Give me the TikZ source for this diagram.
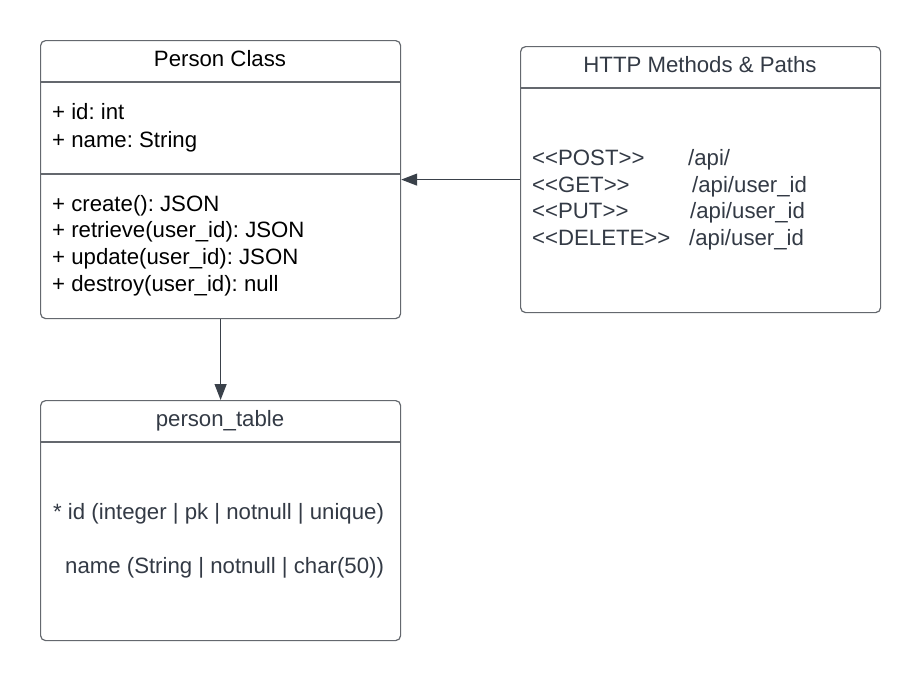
\documentclass[tikz,border=0pt]{standalone}
\usepackage{fontspec}
\setmainfont[Ligatures=NoCommon]{Liberation Sans}
\usetikzlibrary{arrows.meta}
\frenchspacing
\definecolor{boxline}{RGB}{100,104,110}
\definecolor{txtgray}{RGB}{51,58,69}
\definecolor{arrcol}{RGB}{58,65,74}
\newcommand{\stl}{{<}{<}}
\newcommand{\stg}{{>}{>}}
\tikzset{
  umlbox/.style={draw=boxline, line width=1.2pt, rounded corners=5pt, fill=white, anchor=north west, inner sep=0pt},
  divider/.style={draw=boxline, line width=1.2pt},
  txt/.style={anchor=base west, inner sep=0pt, font=\fontsize{22.2}{26}\selectfont\frenchspacing, text=txtgray},
  blk/.style={txt, text=black},
  ttl/.style={anchor=base, inner sep=0pt, font=\fontsize{22.2}{26}\selectfont, text=txtgray},
  arr/.style={draw=arrcol, line width=1.2pt, -{Triangle[length=16pt,width=12pt]}}
}
\begin{document}
\begin{tikzpicture}[x=1pt,y=-1pt]
\useasboundingbox[fill=white] (0,0) rectangle (920,680);
% Person Class
\node[umlbox, minimum width=360pt, minimum height=278pt] (pc) at (40,40) {};
\draw[divider] (40,82) -- (400,82);
\draw[divider] (40,174) -- (400,174);
\node[ttl, text=black] (pct) at (220,66) {Person Class};
\node[blk] (a1) at (52,119) {+ id: int};
\node[blk] (a2) at (52,147) {+ name: String};
\node[blk] (m1) at (52,211) {+ create(): JSON};
\node[blk] (m2) at (52,237) {+ retrieve(user\_id): JSON};
\node[blk] (m3) at (52,264) {+ update(user\_id): JSON};
\node[blk] (m4) at (52,291) {+ destroy(user\_id): null};
% HTTP
\node[umlbox, minimum width=360pt, minimum height=266pt] (http) at (520,46) {};
\draw[divider] (520,88) -- (880,88);
\node[ttl] (httpt) at (700,72) {HTTP Methods \& Paths};
\node[txt] (h1) at (532,165) {\makebox[156pt][l]{\stl POST\stg}/api/};
\node[txt] (h2) at (532,192) {\makebox[160pt][l]{\stl GET\stg}/api/user\_id};
\node[txt] (h3) at (532,218) {\makebox[158pt][l]{\stl PUT\stg}/api/user\_id};
\node[txt] (h4) at (532,245) {\makebox[157pt][l]{\stl DELETE\stg}/api/user\_id};
% person_table
\node[umlbox, minimum width=360pt, minimum height=240pt] (ptab) at (40,400) {};
\draw[divider] (40,442) -- (400,442);
\node[ttl] (ptt) at (220,426) {person\_table};
\node[txt] (r1) at (53,519) {* id (integer | pk | notnull | unique)};
\node[txt] (r2) at (65,573) {name (String | notnull | char(50))};
% connectors
\draw[arr] (http) -- (pc);
\draw[arr] (pc) -- (ptab);
\end{tikzpicture}
\end{document}
